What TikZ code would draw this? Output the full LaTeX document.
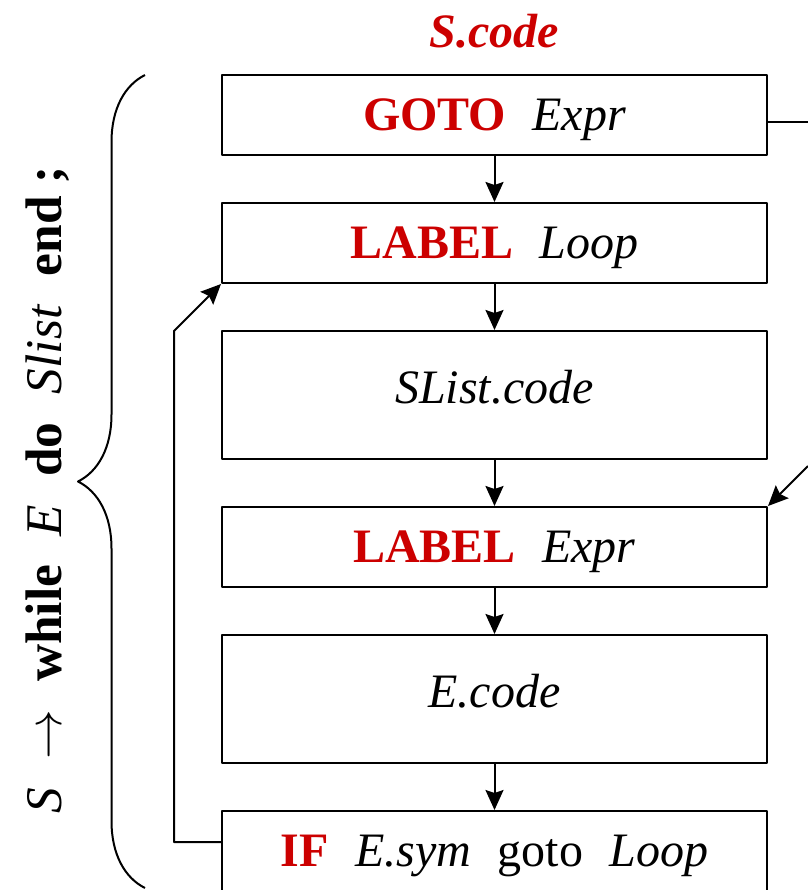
\documentclass[tikz,border=0pt]{standalone}
\usepackage{fontspec}
\setmainfont{Liberation Serif}
\usetikzlibrary{arrows.meta,decorations.pathreplacing}
\definecolor{kwred}{RGB}{204,0,0}
\newcommand{\kw}[1]{\textcolor{kwred}{\textbf{#1}}}

\begin{document}
\begin{tikzpicture}[x=0.5pt, y=-0.5pt, line join=round, >={Stealth[length=10pt,width=9pt,inset=1.5pt]},
    codebox/.style={draw, line width=1pt, minimum width=272.5pt, minimum height=40pt, inner sep=0pt,
        text height=19pt, text depth=4pt, font=\fontsize{24}{28}\selectfont},
    tallbox/.style={codebox, minimum height=64pt, text height=17pt, text depth=9pt},
    flow/.style={line width=1pt, ->}]
    \def\gap{\hspace{0.55em}}
    \useasboundingbox (0,0) rectangle (808,890);
    % title and the production, rotated
    \node[font=\fontsize{24}{28}\selectfont\bfseries\itshape, text=kwred] (title) at (494,31) {S.code};
    \node[rotate=90, font=\fontsize{25.7}{30}\selectfont] (rule) at (48,490)
        {\textit{S}\gap$\rightarrow$\gap\textbf{while}\gap\textit{E}\gap\textbf{do}\gap\textit{Slist}\gap\textbf{end ;}};
    \draw[line width=1pt, decorate, decoration={brace, amplitude=33.5pt}] (145,888) -- (145,75);
    % the code blocks
    \node[codebox] (gotoexpr) at (494.5,115) {\kw{GOTO}\gap\textit{Expr}};
    \node[codebox] (labloop) at (494.5,243) {\kw{LABEL}\gap\textit{Loop}};
    \node[tallbox] (slist) at (494.5,395) {\textit{SList.code}};
    \node[codebox] (labexpr) at (494.5,547) {\kw{LABEL}\gap\textit{Expr}};
    \node[tallbox] (ecode) at (494.5,699) {\textit{E.code}};
    \node[codebox] (ifgoto) at (494.5,851) {\kw{IF}\gap\textit{E.sym}\gap goto\gap\textit{Loop}};
    \foreach \a/\b in {gotoexpr/labloop, labloop/slist, slist/labexpr, labexpr/ecode, ecode/ifgoto}
        \draw[flow] (\a) -- (\b);
    % jumps
    \coordinate (outA) at (808,122);
    \coordinate (outB) at (808,466);
    \coordinate (loopfoot) at (174,842);
    \coordinate (bend) at (174,331);
    \draw[line width=1pt] (gotoexpr.east |- outA) -- (outA);
    \draw[flow] (outB) -- (labexpr.north east);
    \draw[flow] (ifgoto.west |- loopfoot) -- (loopfoot) -- (bend) -- (labloop.south west);
\end{tikzpicture}
\end{document}
